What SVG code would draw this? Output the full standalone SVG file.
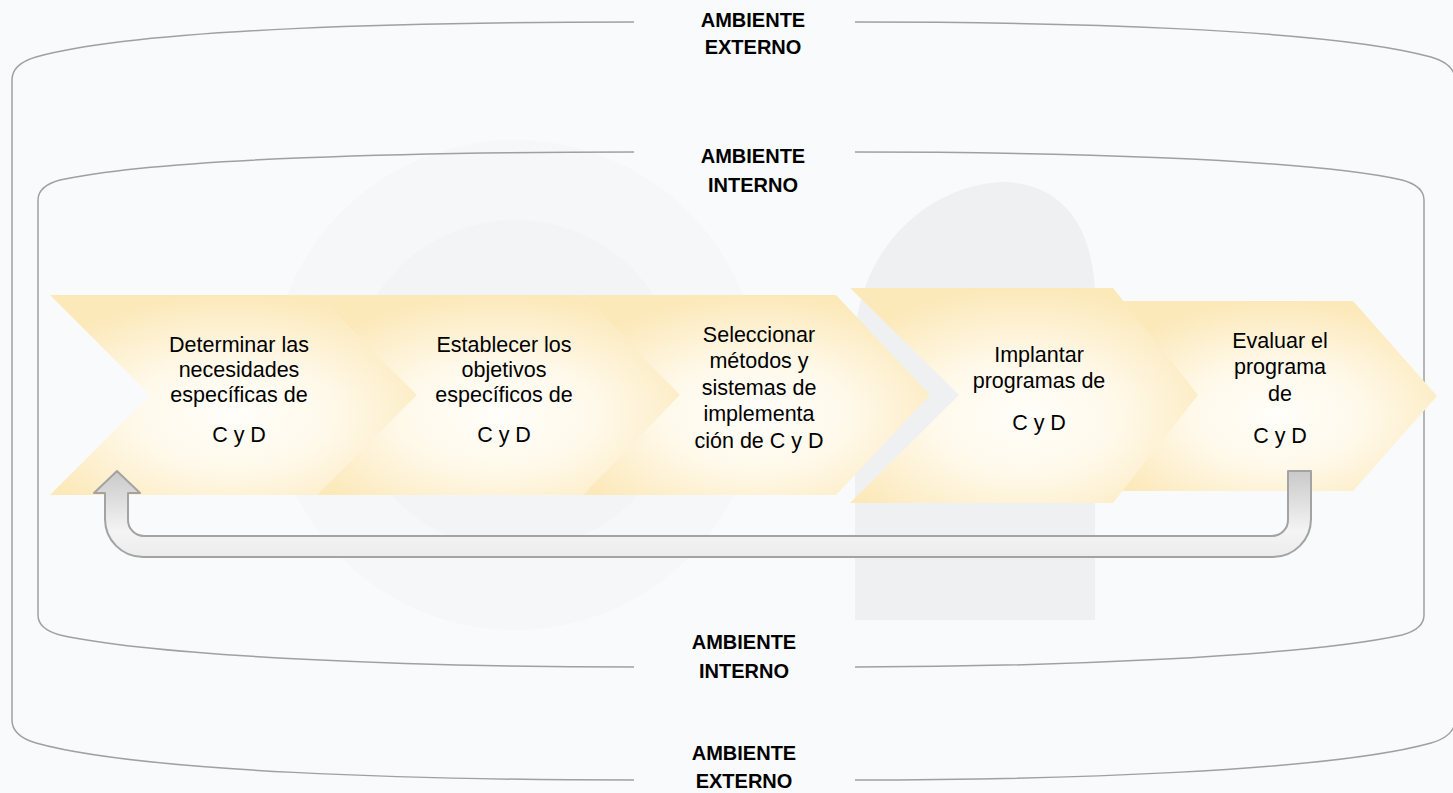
<svg xmlns="http://www.w3.org/2000/svg" width="1453" height="793" viewBox="0 0 1453 793">
  <defs>
    <radialGradient id="chev" cx="0.5" cy="0.6" r="0.6">
      <stop offset="0" stop-color="#FFFEFA"/>
      <stop offset="0.45" stop-color="#FFF9EA"/>
      <stop offset="1" stop-color="#FCE9BA"/>
    </radialGradient>
    <linearGradient id="arrowFill" gradientUnits="userSpaceOnUse" x1="0" y1="471" x2="0" y2="557">
      <stop offset="0" stop-color="#C9C9C9"/>
      <stop offset="0.7" stop-color="#F4F4F4"/>
      <stop offset="1" stop-color="#ECECEC"/>
    </linearGradient>
    <style>
      .frame { fill: none; stroke: #A0A0A0; stroke-width: 1.5; }
      .chev { fill: url(#chev); stroke: none; }
      .lbl { font-family: "Liberation Sans", Arial, sans-serif; font-weight: bold; font-size: 20px; fill: #000; text-anchor: middle; }
      .txt { font-family: "Liberation Sans", Arial, sans-serif; font-size: 21.5px; fill: #000; text-anchor: middle; }
    </style>
  </defs>

  <rect x="0" y="0" width="1453" height="793" fill="#F8FAFB"/>

  <g id="watermark">
    <circle cx="515" cy="385" r="245" fill="#F5F7F8"/>
    <circle cx="515" cy="385" r="165" fill="#F2F4F5"/>
    <path d="M855,620 L855,330 C868,225 950,182 1005,182 C1065,184 1095,230 1095,300 L1095,620 Z" fill="#EEF0F2"/>
  </g>

  <g id="ambiente-externo">
    <path class="frame" d="M634,22 C420,22 140,28 36,57 Q12,64 12,80 L12,720 Q12,736 36,743 C140,772 420,780 634,780"/>
    <path class="frame" d="M855,22 C1047,22 1327,28 1431,57 Q1455,64 1455,80 L1455,720 Q1455,736 1431,743 C1327,772 1047,780 855,780"/>
    <text class="lbl" x="753" y="27">AMBIENTE</text>
    <text class="lbl" x="753" y="54">EXTERNO</text>
    <text class="lbl" x="744" y="760">AMBIENTE</text>
    <text class="lbl" x="744" y="788">EXTERNO</text>
  </g>

  <g id="ambiente-interno">
    <path class="frame" d="M634,152 C420,152 160,158 60,180 Q38,186 38,200 L38,615 Q38,629 60,635 C160,657 420,667 634,667"/>
    <path class="frame" d="M855,152 C1042,152 1302,158 1402,180 Q1424,186 1424,200 L1424,615 Q1424,629 1402,635 C1302,657 1042,667 855,667"/>
    <text class="lbl" x="753" y="163">AMBIENTE</text>
    <text class="lbl" x="753" y="192">INTERNO</text>
    <text class="lbl" x="744" y="649">AMBIENTE</text>
    <text class="lbl" x="744" y="678">INTERNO</text>
  </g>

  <g id="paso1">
    <polygon class="chev" points="50,295 317,295 417,395 317,495 50,495 150,395"/>
    <text class="txt" x="239" y="352">Determinar las</text>
    <text class="txt" x="239" y="377">necesidades</text>
    <text class="txt" x="239" y="402">específicas de</text>
    <text class="txt" x="239" y="442">C y D</text>
  </g>

  <g id="paso2">
    <polygon class="chev" points="317,295 583,295 680,395 583,495 317,495 417,395"/>
    <text class="txt" x="504" y="352">Establecer los</text>
    <text class="txt" x="504" y="377">objetivos</text>
    <text class="txt" x="504" y="402">específicos de</text>
    <text class="txt" x="504" y="442">C y D</text>
  </g>

  <g id="paso3">
    <polygon class="chev" points="583,295 836,295 930,395 836,495 583,495 680,395"/>
    <text class="txt" x="759" y="342">Seleccionar</text>
    <text class="txt" x="759" y="368">métodos y</text>
    <text class="txt" x="759" y="395">sistemas de</text>
    <text class="txt" x="759" y="421">implementa</text>
    <text class="txt" x="759" y="448">ción de C y D</text>
  </g>

  <g id="paso5">
    <polygon class="chev" points="1117,301 1353,301 1437,396 1353,491 1117,491 1196,396"/>
    <text class="txt" x="1280" y="348">Evaluar el</text>
    <text class="txt" x="1280" y="374">programa</text>
    <text class="txt" x="1280" y="401">de</text>
    <text class="txt" x="1280" y="443">C y D</text>
  </g>

  <g id="paso4">
    <polygon class="chev" points="850,288 1113,288 1198,395 1113,503 850,503 959,395"/>
    <text class="txt" x="1039" y="362">Implantar</text>
    <text class="txt" x="1039" y="388">programas de</text>
    <text class="txt" x="1039" y="430">C y D</text>
  </g>

  <g id="connectors">
    <path d="M1288,471 L1311,471 L1311,519 A38,38 0 0 1 1273,557 L143,557 A38,38 0 0 1 105,519 L105,493 L94,493 L117,471 L140,493 L128,493 L128,520 A16,16 0 0 0 144,536 L1272,536 A16,16 0 0 0 1288,520 Z" fill="url(#arrowFill)" stroke="#A3A3A3" stroke-width="2" stroke-linejoin="round"/>
  </g>
</svg>
